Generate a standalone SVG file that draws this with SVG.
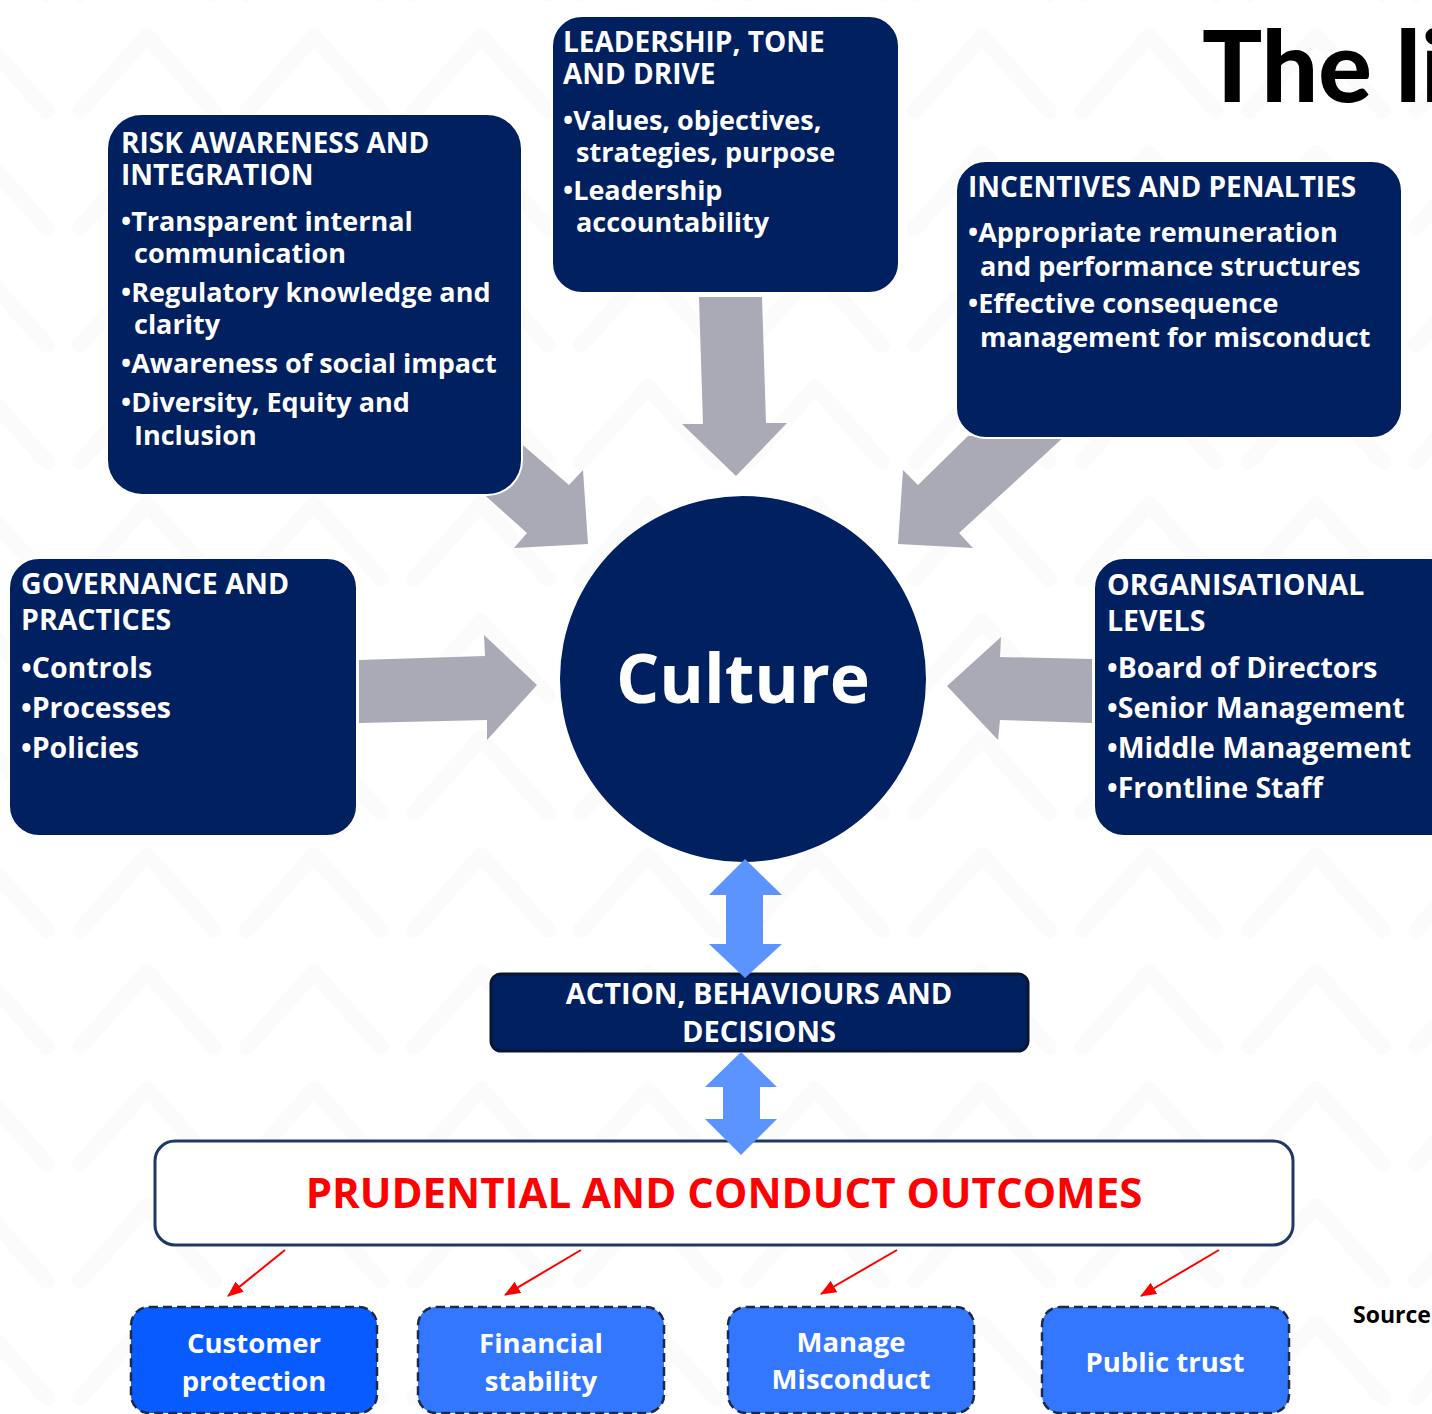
<svg xmlns="http://www.w3.org/2000/svg" width="1432" height="1414" viewBox="0 0 1432 1414">
  <defs>
    <style>
      .box { fill: #002060; stroke: #ffffff; stroke-width: 2; }
      .t { font-family: "Open Sans", Lato, "Liberation Sans", sans-serif; font-weight: 700; fill: #ffffff; font-size: 27px; }
      .h { font-size: 28px; }
      .big { font-size: 28.5px; }
      .goal-t { font-size: 27.5px; }
      .gray { fill: #a9aab6; }
      .dbl { fill: #5b94ff; }
      .goal { stroke: #1b2a47; stroke-width: 2.5; stroke-dasharray: 9 5; }
      .red { stroke: #ff0000; stroke-width: 2; fill: none; marker-end: url(#red-head); }
    </style>
    <marker id="red-head" markerUnits="userSpaceOnUse" viewBox="0 0 16 13" markerWidth="16" markerHeight="13" refX="15" refY="6.5" orient="auto">
      <path d="M0 0 L16 6.5 L0 13 Z" fill="#ff0000"/>
    </marker>
    <!-- faint chevron watermark tiled over the page -->
    <pattern id="chevrons" patternUnits="userSpaceOnUse" x="64" y="26" width="167" height="117">
      <path d="M16 85 L83 10 L150 85" fill="none" stroke="#fbfbfb" stroke-width="16" stroke-linejoin="round" stroke-linecap="round"/>
    </pattern>
    <!-- keeps the diagonal feeder arrows tucked behind their boxes -->
    <mask id="behind-boxes" maskUnits="userSpaceOnUse" x="0" y="0" width="1432" height="1414">
      <rect width="1432" height="1414" fill="#fff"/>
      <rect x="106" y="113" width="417" height="383" rx="36" fill="#000"/>
      <rect x="955" y="160" width="448" height="279" rx="31" fill="#000"/>
    </mask>
  </defs>

  <rect width="1432" height="1414" fill="#ffffff"/>
  <rect width="1432" height="1414" fill="url(#chevrons)"/>

  <!-- heading -->
  <text x="1202" y="102" font-family="Lato, 'Open Sans', sans-serif" font-weight="900" font-size="100" fill="#000">The li</text>

  <!-- nodes -->
  <g id="risk-awareness">
    <rect class="box" x="107" y="114" width="415" height="381" rx="35"/>
    <text class="t h"><tspan x="121" y="153">RISK AWARENESS AND</tspan><tspan x="121" y="185">INTEGRATION</tspan></text>
    <text class="t"><tspan x="121" y="231">•Transparent internal</tspan><tspan x="134" y="263">communication</tspan></text>
    <text class="t"><tspan x="121" y="302">•Regulatory knowledge and</tspan><tspan x="134" y="334">clarity</tspan></text>
    <text class="t" x="121" y="373">•Awareness of social impact</text>
    <text class="t"><tspan x="121" y="412">•Diversity, Equity and</tspan><tspan x="134" y="445">Inclusion</tspan></text>
  </g>

  <g id="leadership">
    <rect class="box" x="552" y="16" width="347" height="277" rx="30"/>
    <text class="t h"><tspan x="563" y="52">LEADERSHIP, TONE</tspan><tspan x="563" y="84">AND DRIVE</tspan></text>
    <text class="t"><tspan x="563" y="130">•Values, objectives,</tspan><tspan x="576" y="162">strategies, purpose</tspan></text>
    <text class="t"><tspan x="563" y="200">•Leadership</tspan><tspan x="576" y="232">accountability</tspan></text>
  </g>

  <g id="incentives">
    <rect class="box" x="956" y="161" width="446" height="277" rx="30"/>
    <text class="t h" x="968" y="197">INCENTIVES AND PENALTIES</text>
    <text class="t"><tspan x="968" y="242">•Appropriate remuneration</tspan><tspan x="980" y="276">and performance structures</tspan></text>
    <text class="t"><tspan x="968" y="313">•Effective consequence</tspan><tspan x="980" y="347">management for misconduct</tspan></text>
  </g>

  <g id="governance">
    <rect class="box" x="9" y="558" width="348" height="278" rx="30"/>
    <text class="t big"><tspan x="21" y="594">GOVERNANCE AND</tspan><tspan x="21" y="630">PRACTICES</tspan></text>
    <text class="t big"><tspan x="21" y="678">•Controls</tspan><tspan x="21" y="718">•Processes</tspan><tspan x="21" y="758">•Policies</tspan></text>
  </g>

  <g id="organisational-levels">
    <rect class="box" x="1094" y="558" width="370" height="278" rx="30"/>
    <text class="t big"><tspan x="1107" y="595">ORGANISATIONAL</tspan><tspan x="1107" y="631">LEVELS</tspan></text>
    <text class="t big"><tspan x="1107" y="678">•Board of Directors</tspan><tspan x="1107" y="718">•Senior Management</tspan><tspan x="1107" y="758">•Middle Management</tspan><tspan x="1107" y="798">•Frontline Staff</tspan></text>
  </g>

  <g id="culture">
    <circle cx="743" cy="679" r="183" fill="#002060"/>
    <text class="t" x="743" y="703" style="font-size:68px" text-anchor="middle">Culture</text>
  </g>

  <g id="actions">
    <rect x="491" y="974" width="537" height="77" rx="10" fill="#002060" stroke="#0b1530" stroke-width="3"/>
    <text class="t" style="font-size:29px" text-anchor="middle"><tspan x="759" y="1004">ACTION, BEHAVIOURS AND</tspan><tspan x="759" y="1042">DECISIONS</tspan></text>
  </g>

  <g id="outcomes">
    <rect x="155" y="1141" width="1138" height="104" rx="20" fill="#ffffff" stroke="#1f3864" stroke-width="3"/>
    <text class="t" x="724" y="1208" style="font-size:42px;fill:#ff0000" text-anchor="middle">PRUDENTIAL AND CONDUCT OUTCOMES</text>
  </g>

  <g id="customer-protection">
    <rect class="goal" x="131" y="1307" width="246" height="106" rx="18" fill="#085bff"/>
    <text class="t goal-t" text-anchor="middle"><tspan x="254" y="1353">Customer</tspan><tspan x="254" y="1391">protection</tspan></text>
  </g>

  <g id="financial-stability">
    <rect class="goal" x="418" y="1307" width="246" height="106" rx="18" fill="#3477ff"/>
    <text class="t goal-t" text-anchor="middle"><tspan x="541" y="1353">Financial</tspan><tspan x="541" y="1391">stability</tspan></text>
  </g>

  <g id="manage-misconduct">
    <rect class="goal" x="728" y="1307" width="246" height="106" rx="18" fill="#3477ff"/>
    <text class="t goal-t" text-anchor="middle"><tspan x="851" y="1352">Manage</tspan><tspan x="851" y="1389">Misconduct</tspan></text>
  </g>

  <g id="public-trust">
    <rect class="goal" x="1042" y="1307" width="247" height="106" rx="18" fill="#3477ff"/>
    <text class="t goal-t" x="1165" y="1372" text-anchor="middle">Public trust</text>
  </g>

  <text x="1353" y="1323" font-family="'Open Sans', Lato, sans-serif" font-weight="700" font-size="23" fill="#000">Source</text>

  <!-- connectors -->
  <g id="connectors">
    <g mask="url(#behind-boxes)">
      <polygon class="gray" points="423,440 517,440 569,485 583,470 588,544 514,548 527,533"/>
      <polygon class="gray" points="968,436 918,485 903,470 898,544 973,548 959,533 1065,436"/>
    </g>
    <polygon class="gray" points="699,297 762,297 766,423 787,423 736,476 682,424 703,424"/>
    <polygon class="gray" points="359,660 485,656 484,635 537,685 487,740 487,720 359,723"/>
    <polygon class="gray" points="1092,659 1000,657 1001,637 947,686 998,740 1000,720 1092,723"/>

    <polygon class="dbl" points="745,859 782,895 763,895 763,944 782,944 745,978 709,944 726,944 726,895 709,895"/>
    <polygon class="dbl" points="741,1052 777,1087 760,1087 760,1119 777,1119 741,1155 705,1119 723,1119 723,1087 705,1087"/>

    <line class="red" x1="285" y1="1250" x2="228" y2="1296"/>
    <line class="red" x1="581" y1="1250" x2="505" y2="1295"/>
    <line class="red" x1="897" y1="1250" x2="821" y2="1294"/>
    <line class="red" x1="1219" y1="1250" x2="1141" y2="1296"/>
  </g>
</svg>
